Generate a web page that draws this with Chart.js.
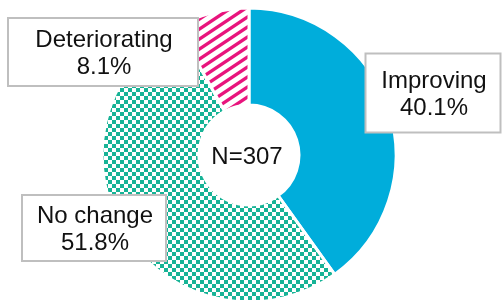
<!DOCTYPE html>
<html>
<head>
<meta charset="utf-8">
<script src="https://cdn.jsdelivr.net/npm/chart.js@4.4.0/dist/chart.umd.min.js"></script>
<style>
  html, body { margin: 0; padding: 0; background: #fff; }
  #wrap { width: 502px; height: 300px; }
</style>
</head>
<body>
<div id="wrap"><canvas id="outlook"></canvas></div>
<script>
// values (share of respondents, %)
const categories = ["Improving", "No change", "Deteriorating"];
const shares = [40.1, 51.8, 8.1];
const sampleSize = 307;

// where each callout box sits (centre x, centre y, width, height)
const calloutBoxes = [
  { cx: 433, cy: 93, w: 135, h: 79 },
  { cx: 94, cy: 228, w: 144, h: 66 },
  { cx: 103, cy: 52, w: 190, h: 68 },
];

const FONT = "Liberation Sans, Arial, sans-serif";

function checkerPattern(color) {
  const c = document.createElement("canvas");
  c.width = 8; c.height = 8;
  const g = c.getContext("2d");
  g.fillStyle = "#fff";
  g.fillRect(0, 0, 8, 8);
  g.fillStyle = color;
  g.fillRect(0, 0, 4, 4);
  g.fillRect(4, 4, 4, 4);
  return g.createPattern(c, "repeat");
}

function stripePattern(color) {
  const w = 15, h = 10, t = 4;
  const c = document.createElement("canvas");
  c.width = w; c.height = h;
  const g = c.getContext("2d");
  g.fillStyle = "#fff";
  g.fillRect(0, 0, w, h);
  g.fillStyle = color;
  for (let k = -1; k <= 1; k++) {
    const off = k * h;
    g.beginPath();
    g.moveTo(0, h + off);
    g.lineTo(w, off);
    g.lineTo(w, off + t);
    g.lineTo(0, h + off + t);
    g.closePath();
    g.fill();
  }
  return g.createPattern(c, "repeat");
}

const callouts = {
  id: "callouts",
  afterDraw(chart) {
    const ctx = chart.ctx;
    ctx.save();
    ctx.font = "24px " + FONT;
    ctx.textAlign = "center";
    ctx.textBaseline = "middle";
    categories.forEach((name, i) => {
      const b = calloutBoxes[i];
      ctx.fillStyle = "#fff";
      ctx.fillRect(b.cx - b.w / 2, b.cy - b.h / 2, b.w, b.h);
      ctx.strokeStyle = "#bfbfbf";
      ctx.lineWidth = 2;
      ctx.strokeRect(b.cx - b.w / 2, b.cy - b.h / 2, b.w, b.h);
      ctx.fillStyle = "#111";
      ctx.fillText(name, b.cx + 1, b.cy - 12);
      ctx.fillText(shares[i].toFixed(1) + "%", b.cx + 1, b.cy + 15);
    });
    // sample size in the hole
    const arc = chart.getDatasetMeta(0).data[0];
    ctx.fillText("N=" + sampleSize, arc.x - 2, arc.y + 2);
    ctx.restore();
  }
};

const ctx = document.getElementById("outlook").getContext("2d");
new Chart(ctx, {
  type: "doughnut",
  data: {
    labels: categories,
    datasets: [{
      data: shares,
      backgroundColor: ["#00addb", checkerPattern("#17b396"), stripePattern("#e8147d")],
      borderColor: "#fff",
      borderWidth: 3,
    }]
  },
  options: {
    responsive: true,
    maintainAspectRatio: false,
    animation: false,
    events: [],
    cutout: "34%",
    radius: 147,
    layout: { padding: { top: 10, bottom: 0, left: 0, right: 4 } },
    plugins: {
      legend: { display: false },
      tooltip: { enabled: false },
    }
  },
  plugins: [callouts]
});
</script>
</body>
</html>
